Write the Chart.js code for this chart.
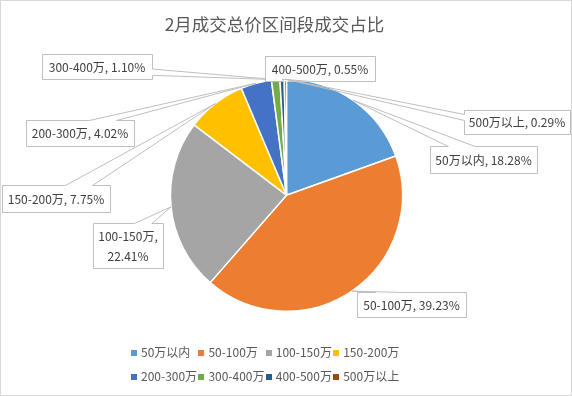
<!DOCTYPE html>
<html>
<head>
<meta charset="utf-8">
<script src="https://cdn.jsdelivr.net/npm/chart.js@4.4.0/dist/chart.umd.min.js"></script>
<style>
html, body { margin: 0; padding: 0; background: #fff; }
#wrap { position: relative; width: 572px; height: 396px; }
#titulo { position: absolute; left: 0; top: 13px; width: 549px; text-align: center; font: 17.5px "Noto Sans CJK SC", sans-serif; color: #595959; line-height: 22px; white-space: nowrap; }
#lgd .it { position: absolute; font: 12px "Noto Sans CJK SC", sans-serif; color: #595959; white-space: nowrap; line-height: 16px; }
#lgd .sw { display: inline-block; width: 6px; height: 6px; margin-right: 4px; vertical-align: middle; position: relative; top: -1px; }
</style>
</head>
<body>
<div id="wrap">
    <canvas id="pie" width="572" height="396"></canvas>
    <div id="titulo"></div>
    <div id="lgd"></div>
</div>
<script>
// ───── DADOS ─────
const TITULO     = "2月成交总价区间段成交占比";
const CATEGORIAS = ["50万以内", "50-100万", "100-150万", "150-200万", "200-300万", "300-400万", "400-500万", "500万以上"];
const PERCENT    = [18.28, 39.23, 22.41, 7.75, 4.02, 1.10, 0.55, 0.29];
const CORES      = ["#5B9BD5", "#ED7D31", "#A5A5A5", "#FFC000", "#4472C4", "#70AD47", "#255E91", "#9E480E"];

// caixas dos rótulos [x, y, w, h] — posicionadas à mão, como no Excel
const CAIXAS = [
    [430, 146, 107, 27],
    [357, 292, 109, 25],
    [ 93, 223,  70, 45],
    [  2, 185, 108, 27],
    [ 26, 120, 108, 26],
    [ 42,  54, 110, 25],
    [265,  56, 110, 25],
    [464, 110, 106, 24],
];
const FONTE = "'Noto Sans CJK SC', sans-serif";

// caixa com "bico" (wedgeRectCallout do Office)
function _calloutPath(ctx, l, t, w, h, xp, yp) {
    const r = l + w, b = t + h;
    const dx = xp - (l + w / 2), dy = yp - (t + h / 2);
    const dz = Math.abs(dy) - Math.abs(dx * h / w);
    const x1 = l + w * (dx > 0 ? 7 : 2) / 12, x2 = l + w * (dx > 0 ? 10 : 5) / 12;
    const y1 = t + h * (dy > 0 ? 7 : 2) / 12, y2 = t + h * (dy > 0 ? 10 : 5) / 12;
    const lado = dz > 0 ? (dy < 0 ? "top" : "bottom") : (dx < 0 ? "left" : "right");
    ctx.beginPath();
    ctx.moveTo(l, t);
    if (lado === "top")    { ctx.lineTo(x1, t); ctx.lineTo(xp, yp); ctx.lineTo(x2, t); }
    ctx.lineTo(r, t);
    if (lado === "right")  { ctx.lineTo(r, y1); ctx.lineTo(xp, yp); ctx.lineTo(r, y2); }
    ctx.lineTo(r, b);
    if (lado === "bottom") { ctx.lineTo(x2, b); ctx.lineTo(xp, yp); ctx.lineTo(x1, b); }
    ctx.lineTo(l, b);
    if (lado === "left")   { ctx.lineTo(l, y2); ctx.lineTo(xp, yp); ctx.lineTo(l, y1); }
    ctx.closePath();
}

const calloutPlugin = {
    id: "callouts",
    afterDatasetsDraw(chart) {
        const ctx  = chart.ctx;
        const arcs = chart.getDatasetMeta(0).data;
        ctx.save();
        ctx.font = "12px " + FONTE;
        ctx.textAlign = "center";
        ctx.textBaseline = "middle";
        arcs.forEach((arc, i) => {
            const p   = arc.getProps(["x", "y", "startAngle", "endAngle", "outerRadius"], true);
            const mid = (p.startAngle + p.endAngle) / 2;
            const tx  = p.x + Math.cos(mid) * p.outerRadius;
            const ty  = p.y + Math.sin(mid) * p.outerRadius;
            const [bx, by, bw, bh] = CAIXAS[i];
            const l = bx + 0.5, t = by + 0.5;

            ctx.fillStyle = "#fff";
            ctx.fillRect(l, t, bw, bh);
            _calloutPath(ctx, l, t, bw, bh, tx, ty);
            ctx.strokeStyle = "#BFBFBF";
            ctx.lineWidth = 1;
            ctx.stroke();

            const txt = CATEGORIAS[i] + ", " + PERCENT[i].toFixed(2) + "%";
            ctx.fillStyle = "#404040";
            const cx = bx + bw / 2, cy = by + bh / 2 + 0.5;
            if (ctx.measureText(txt).width > bw - 6) {
                ctx.fillText(CATEGORIAS[i] + ",", cx, cy - 10);
                ctx.fillText(PERCENT[i].toFixed(2) + "%", cx, cy + 10);
            } else {
                ctx.fillText(txt, cx, cy);
            }
        });
        ctx.restore();
    }
};

const bordaPlugin = {
    id: "borda",
    afterDraw(chart) {
        const ctx = chart.ctx;
        ctx.save();
        ctx.strokeStyle = "#D9D9D9";
        ctx.lineWidth = 1;
        ctx.strokeRect(0.5, 0.5, chart.width - 1, chart.height - 1);
        ctx.restore();
    }
};

new Chart(document.getElementById("pie").getContext("2d"), {
    type: "pie",
    data: {
        labels: CATEGORIAS,
        datasets: [{
            data: PERCENT,
            backgroundColor: CORES,
            borderColor: "#fff",
            borderWidth: 1.5,
            hoverOffset: 0,
        }]
    },
    options: {
        responsive: false, animation: false,
        layout: { padding: { top: 78.4, left: 1, right: 0, bottom: 84 } },
        plugins: {
            legend:  { display: false },
            tooltip: { enabled: false },
            title:   { display: false }
        }
    },
    plugins: [calloutPlugin, bordaPlugin]
});

// título fora do canvas (no Excel ele fica um pouco à esquerda do centro)
document.getElementById("titulo").textContent = TITULO;

// legenda em grade 4 x 2, como no Excel
document.getElementById("lgd").innerHTML = CATEGORIAS.map((c, i) => {
    const col = i % 4, row = Math.floor(i / 4);
    return `<div class="it" style="left:${131 + col * 67.4}px;top:${344 + row * 24}px">` +
           `<span class="sw" style="background:${CORES[i]}"></span>${c}</div>`;
}).join("");
</script>
</body>
</html>
